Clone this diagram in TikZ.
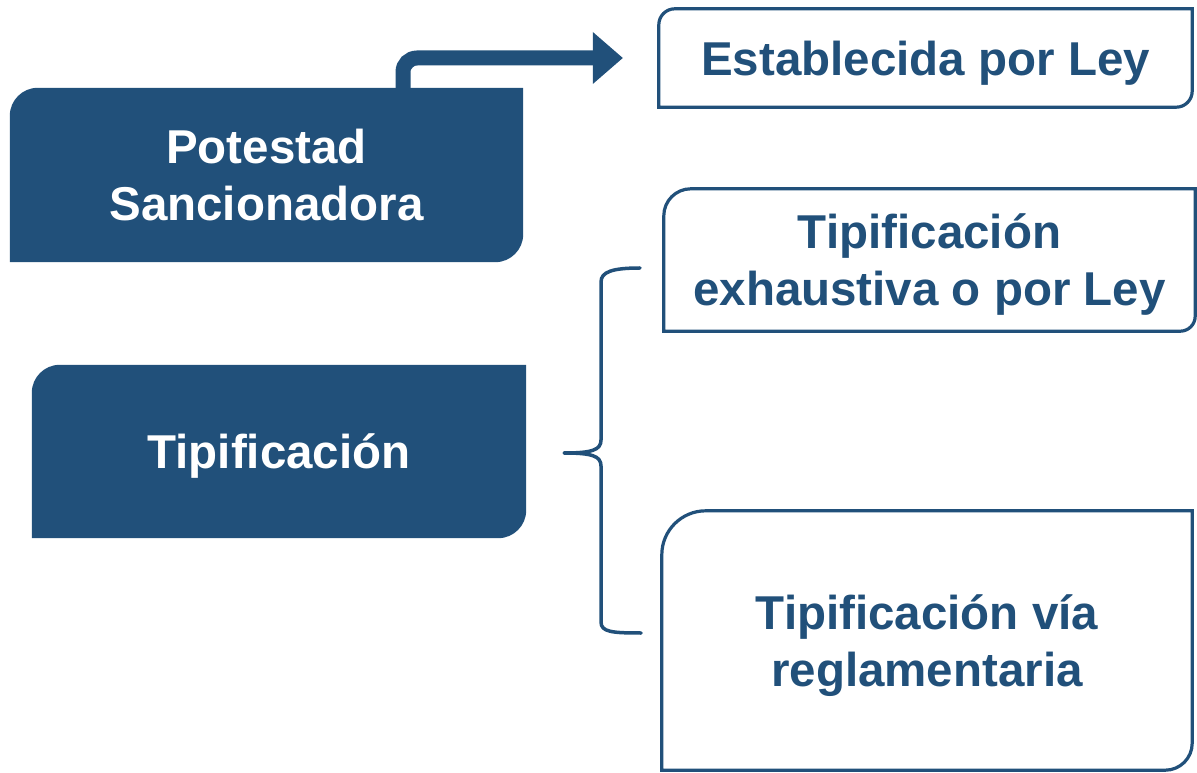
\documentclass[tikz,border=0pt]{standalone}
\usepackage{fontspec}
\setmainfont{Liberation Sans}
\usetikzlibrary{arrows.meta,backgrounds}
\definecolor{navy}{RGB}{33,80,122}
\newcommand\cornerbox[4]{%
  \path[#1] ([yshift=-#3]#2.north west) arc[start angle=180,end angle=90,radius=#3]
    -- (#2.north east) -- ([yshift=#4]#2.south east)
    arc[start angle=0,end angle=-90,radius=#4] -- (#2.south west) -- cycle;}
\begin{document}
\begin{tikzpicture}[x=1pt,y=1pt,
  lbl/.style={inner sep=0pt, align=center, text depth=0pt, font=\fontsize{47.5}{57}\selectfont\bfseries},
  darkbox/.style={lbl, text=white},
  lightbox/.style={lbl, text=navy},
  outline/.style={draw=navy, line width=3.2pt, fill=white},
  solid/.style={fill=navy},
  bigarrow/.style={draw=navy, line width=15pt, rounded corners=14pt,
    -{Triangle[length=30pt,width=52pt,line width=0pt]}, shorten >=36pt},
  bracestyle/.style={draw=navy, line width=3.5pt, line cap=round, line join=round}]
\useasboundingbox (0,0) rectangle (1197,772);

\node[darkbox, minimum width=513pt, minimum height=174pt] (A) at (266.5,597) {Potestad\\Sancionadora};
\node[lightbox, minimum width=533pt, minimum height=98pt] (E) at (925.5,714) {Establecida por Ley};
\node[lightbox, minimum width=531pt, minimum height=142pt] (X) at (929.5,512) {Tipificación\\exhaustiva o por Ley};
\node[darkbox, minimum width=494pt, minimum height=173pt] (T) at (279,320.5) {Tipificación};
\node[lightbox, minimum width=530pt, minimum height=259pt] (V) at (927,131.5) {Tipificación vía\\reglamentaria};

\begin{pgfonlayer}{background}
\cornerbox{solid}{A}{28pt}{28pt}
\cornerbox{outline}{E}{16pt}{16pt}
\cornerbox{outline}{X}{27pt}{15pt}
\cornerbox{solid}{T}{28pt}{28pt}
\cornerbox{outline}{V}{44pt}{27pt}
\end{pgfonlayer}

\coordinate (as) at (403,677);
\draw[bigarrow] (as) |- (E.west);

\coordinate (b1) at (640,504);
\coordinate (b0) at (564,319);
\coordinate (b2) at (641,139);
\draw[bracestyle] (b1) .. controls (612,504) and (601,500) .. (601,490)
  -- (601,332) .. controls (601,322) and (592,319) .. (b0)
  .. controls (592,319) and (601,316) .. (601,306)
  -- (601,150) .. controls (601,140) and (612,139) .. (b2);
\end{tikzpicture}
\end{document}
